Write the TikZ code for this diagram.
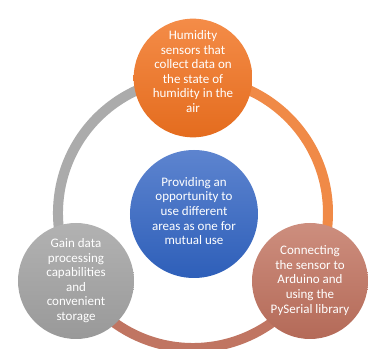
\documentclass[tikz,border=0pt]{standalone}
\usepackage{fontspec}
\setmainfont{Carlito}
\definecolor{orgTop}{HTML}{F48C48}
\definecolor{orgBot}{HTML}{E46C1E}
\definecolor{bluTop}{HTML}{5D84CF}
\definecolor{bluBot}{HTML}{2E5FB9}
\definecolor{gryTop}{HTML}{B2B2B2}
\definecolor{gryBot}{HTML}{999999}
\definecolor{brnTop}{HTML}{CD8E7E}
\definecolor{brnBot}{HTML}{B46A58}
\definecolor{orgRing}{HTML}{F08A47}
\definecolor{gryRing}{HTML}{ABABAB}
\definecolor{brnRing}{HTML}{C07562}
% centred lines of text, lifted by #1 without changing the box size
\newcommand{\bubbletext}[2]{\raisebox{#1}[\height][\depth]{\begin{tabular}{@{}c@{}}#2\end{tabular}}}
\tikzset{
  bubble/.style={circle, draw=none, minimum size=116pt, inner sep=0pt,
    text=white, font=\fontsize{13pt}{14.6pt}\selectfont},
  ringarc/.style={line width=10pt},
}
\begin{document}
\begin{tikzpicture}[x=1pt,y=1pt]
\useasboundingbox (0,0) rectangle (368,349);
\coordinate (hub) at (193,136);
% ring segments, each coloured like the step it leaves
\draw[ringarc, gryRing] (hub) ++(210:135) arc[start angle=210, end angle=90, radius=135];
\draw[ringarc, orgRing] (hub) ++(90:135) arc[start angle=90, end angle=-30, radius=135];
\draw[ringarc, brnRing] (hub) ++(-30:135) arc[start angle=-30, end angle=-150, radius=135];
% the four circles
\node[bubble, top color=orgTop, bottom color=orgBot] (sense) at (193,271)
  {\bubbletext{5pt}{Humidity\\sensors that\\collect data on\\the state of\\humidity in the\\air}};
\node[bubble, minimum size=128pt, top color=bluTop, bottom color=bluBot] (core) at (194,135)
  {\bubbletext{1.5pt}{Providing an\\opportunity to\\use different\\areas as one for\\mutual use}};
\node[bubble, top color=gryTop, bottom color=gryBot] (store) at (76,68)
  {\bubbletext{0pt}{Gain data\\processing\\capabilities\\and\\convenient\\storage}};
\node[bubble, top color=brnTop, bottom color=brnBot] (link) at (310,68)
  {\bubbletext{0pt}{Connecting\\the sensor to\\Arduino and\\using the\\PySerial library}};
\end{tikzpicture}
\end{document}
